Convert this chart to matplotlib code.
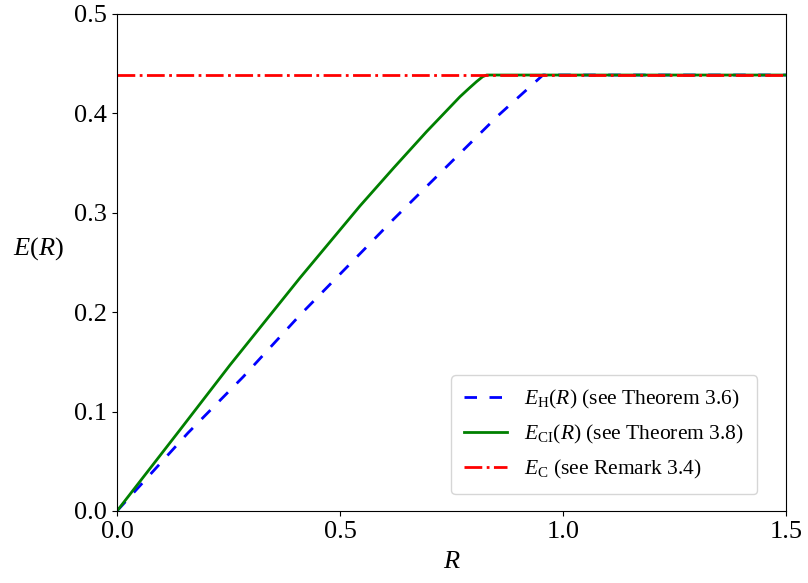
import numpy as np
import matplotlib
matplotlib.use("Agg")
import matplotlib.pyplot as plt

plt.rcParams['font.family'] = ['Liberation Serif', 'DejaVu Serif']
plt.rcParams['mathtext.fontset'] = 'custom'
plt.rcParams['mathtext.rm'] = 'Liberation Serif'
plt.rcParams['mathtext.it'] = 'Liberation Serif:italic'
plt.rcParams['mathtext.bf'] = 'Liberation Serif:bold'

# Data
E_C = 0.4386
R_H = [0.0, 0.159, 0.283, 0.41, 0.567, 0.620, 0.855, 0.955, 1.5]
E_H = [0.0, 0.0785, 0.135, 0.197, 0.269, 0.2935, 0.398, 0.4386, 0.4386]
R_CI = [0.0, 0.141, 0.2534, 0.41, 0.545, 0.620, 0.694, 0.769, 0.79, 0.806, 0.82, 0.829, 1.5]
E_CI = [0.0, 0.0815, 0.1469, 0.2344, 0.307, 0.345, 0.3816, 0.4168, 0.4255, 0.4319, 0.4370, 0.4386, 0.4386]
R_C = [0.0, 1.5]

fig = plt.figure(figsize=(8.08, 5.83), dpi=100)
ax = fig.add_axes([0.1448, 0.1235, 0.828, 0.8525])

ax.plot(R_H, E_H, color='blue', lw=2, linestyle=(0, (4.5, 4.5)),
        label=r'$E_{\mathrm{H}}(R)$ (see Theorem 3.6)')
ax.plot(R_CI, E_CI, color='green', lw=2,
        label=r'$E_{\mathrm{CI}}(R)$ (see Theorem 3.8)')
ax.plot(R_C, [E_C, E_C], color='red', lw=2, linestyle='-.',
        label=r'$E_{\mathrm{C}}$ (see Remark 3.4)')

ax.set_xlim(0, 1.5)
ax.set_ylim(0, 0.5)
ax.set_xticks([0.0, 0.5, 1.0, 1.5])
ax.set_yticks([0.0, 0.1, 0.2, 0.3, 0.4, 0.5])
ax.tick_params(labelsize=19)
ax.set_xlabel(r'$R$', fontsize=19, labelpad=6)
ax.set_ylabel(r'$E(R)$', fontsize=19, rotation=0)
ax.yaxis.set_label_coords(-0.117, 0.5)
ax.legend(loc='lower right', bbox_to_anchor=(0.957, 0.034), borderaxespad=0,
          fontsize=15.5, borderpad=0.6, handlelength=2.0, labelspacing=0.55)

fig.savefig('out.png', dpi=100)
